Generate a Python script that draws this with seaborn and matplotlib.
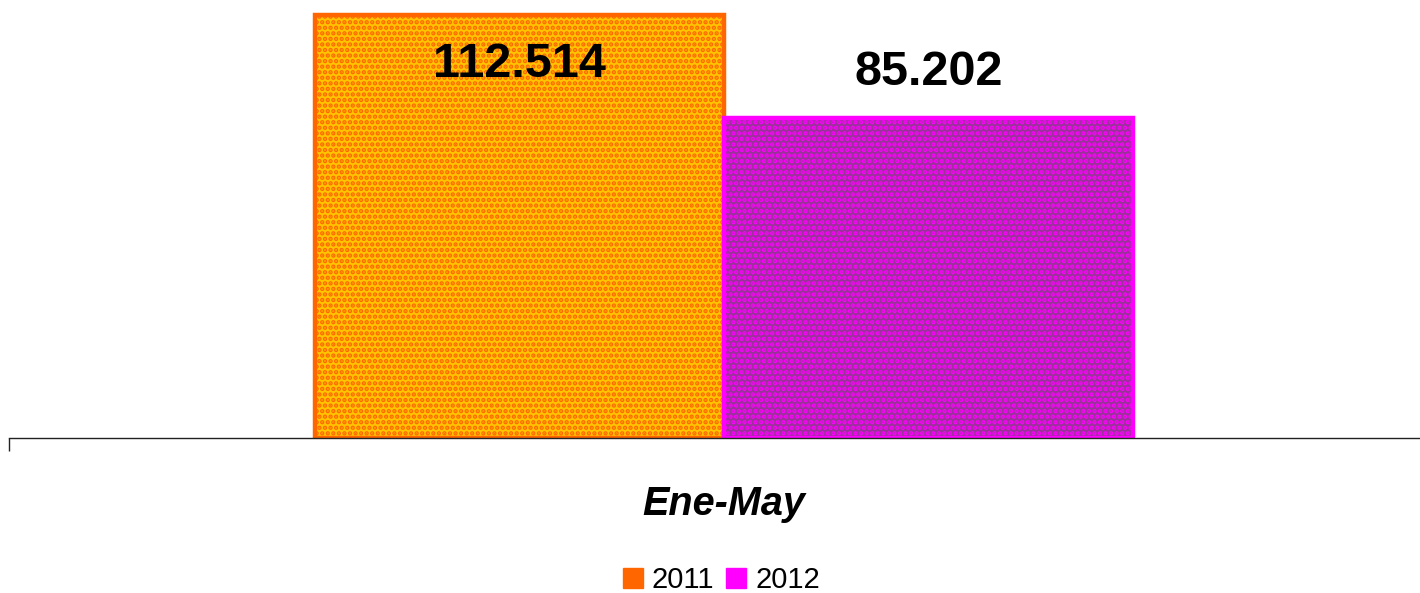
import pandas as pd
import matplotlib
matplotlib.use('Agg')
import matplotlib.pyplot as plt
from matplotlib.patches import Patch
import seaborn as sns

periodos = ['Ene-May']
anios = ['2011', '2012']
valores = [112.514, 85.202]
etiquetas = ['112.514', '85.202']

fondo = {'2011': '#FFC400', '2012': '#993399'}
puntos = {'2011': '#FF6600', '2012': '#FF00FF'}

sns.set_style('white')
plt.rcParams['font.family'] = ['Liberation Sans', 'DejaVu Sans']
plt.rcParams['hatch.linewidth'] = 2.2

df = pd.DataFrame({'periodo': periodos * len(anios), 'anio': anios, 'valor': valores})

fig = plt.figure(figsize=(14.2, 5.93), dpi=100)
ax = fig.add_axes([9 / 1420, 155 / 593, 1411 / 1420, 438 / 593])

sns.barplot(data=df, x='periodo', y='valor', hue='anio', hue_order=anios,
            palette=fondo, width=0.58, gap=0, legend=False, ax=ax)

for patch, anio in zip(ax.patches, anios):
    patch.set_facecolor(fondo[anio])
    patch.set_edgecolor(puntos[anio])
    patch.set_hatch('...')
    patch.set_linewidth(3.2)

ymax = 116.5
ax.set_ylim(0, ymax)
xl = -715 / 1411
ax.set_xlim(xl, xl + 1.0)

# etiquetas de valor
for patch, txt, v in zip(ax.patches, etiquetas, valores):
    cx = patch.get_x() + patch.get_width() / 2
    y = v + 11.9
    if y > ymax - 10:
        y = v - 13.3
    ax.text(cx, y, txt, ha='center', va='center', fontsize=35,
            fontweight='bold', color='black')

sns.despine(ax=ax, left=True, top=True, right=True)
ax.spines['bottom'].set_color('#222222')
ax.spines['bottom'].set_linewidth(1)
ax.set_yticks([])
ax.set_ylabel('')
ax.set_xlabel('')
ax.set_xticks([0])
ax.set_xticklabels(periodos, fontsize=28.5, fontweight='bold', fontstyle='italic', color='black')
ax.tick_params(axis='x', which='major', length=0, pad=34)
ax.set_xticks([xl], minor=True)
ax.tick_params(axis='x', which='minor', bottom=True, length=9, width=1, color='#222222', direction='out')

handles = [Patch(facecolor=puntos[a], edgecolor=puntos[a], label=a) for a in anios]
fig.legend(handles=handles, loc='center', bbox_to_anchor=(0.508, 0.022),
           ncol=2, frameon=False, fontsize=21, handlelength=0.7, handleheight=0.7,
           handletextpad=0.3, columnspacing=0.4, labelcolor='black')

fig.savefig('out.png', dpi=100)
